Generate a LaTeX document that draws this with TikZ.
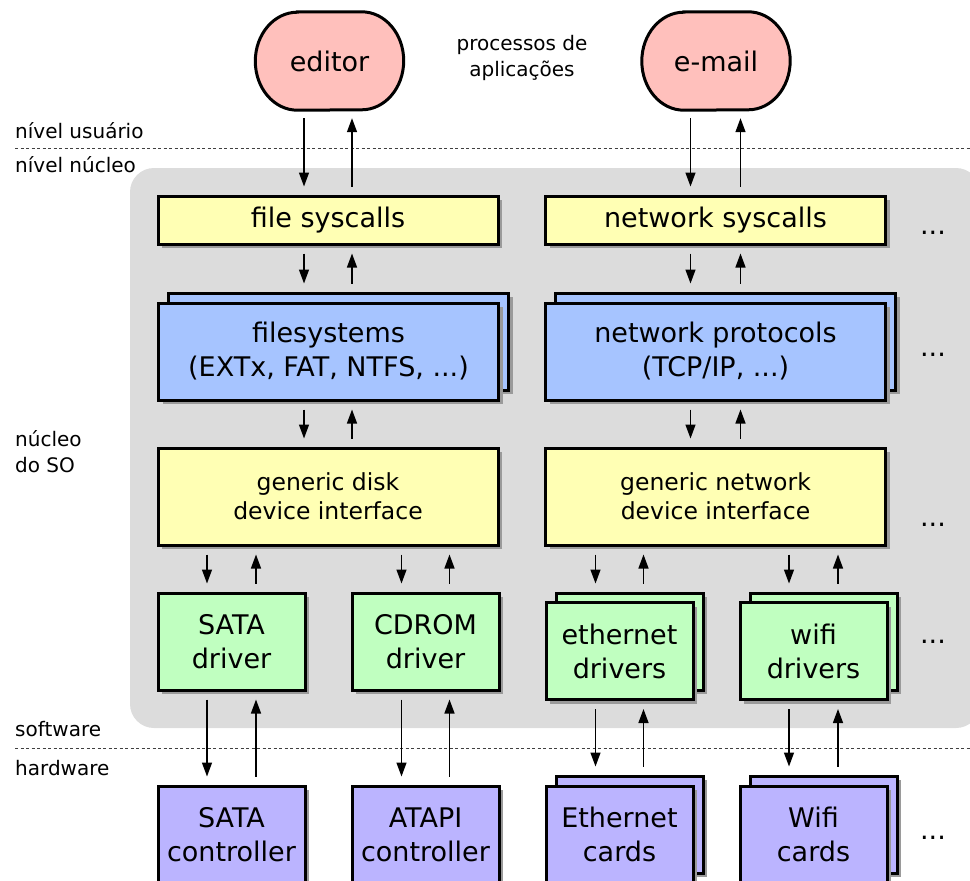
\documentclass[tikz,border=0pt]{standalone}
\usepackage{fontspec}
\setmainfont{DejaVu Sans}
\usetikzlibrary{shadows,arrows.meta,calc}
\definecolor{bggray}{HTML}{DCDCDC}
\definecolor{ylw}{HTML}{FFFFB4}
\definecolor{blu}{HTML}{A6C4FF}
\definecolor{grn}{HTML}{C0FFC0}
\definecolor{prp}{HTML}{BBB4FF}
\definecolor{pnk}{HTML}{FFC0BC}
\definecolor{shd}{HTML}{9A9A9A}
\tikzset{
  bigtxt/.style={font=\fontsize{27}{34}\selectfont},
  midtxt/.style={font=\fontsize{23.5}{29}\selectfont},
  lbl/.style={font=\fontsize{20}{26}\selectfont, inner sep=0pt},
  boxbase/.style={draw, line width=3pt, inner sep=0pt, align=center,
    drop shadow={shadow xshift=4pt, shadow yshift=-4pt, fill=shd, opacity=1}},
  wbox/.style={boxbase, minimum width=340pt, minimum height=#1},
  sbox/.style={boxbase, minimum width=147pt, minimum height=97pt},
  proc/.style={minimum width=148pt, minimum height=98pt, bigtxt, inner sep=0pt},
  procshape/.style={draw, line width=3pt, fill=pnk},
  arr/.style={line width=1.4pt, -{Triangle[length=14pt,width=10pt]}, shorten <=8pt, shorten >=8pt},
  sep/.style={line width=0.8pt, dash pattern=on 3pt off 2.5pt, black!75},
  dots/.style={bigtxt, anchor=base, inner sep=0pt}
}
\newcommand{\updown}[4]{%
  \draw[arr] ([xshift=-#4]#3.north |- #1.south) -- ([xshift=-#4]#3.north |- #2.north);
  \draw[arr] ([xshift=#4]#3.north |- #2.north) -- ([xshift=#4]#3.north |- #1.south);
}
\newcommand{\procbg}[1]{%
  \draw[procshape] ([xshift=42pt]#1.north west) -- ([xshift=-42pt]#1.north east)
    arc[start angle=-90, end angle=90, x radius=42, y radius=49]
    -- ([xshift=42pt]#1.south west)
    arc[start angle=90, end angle=270, x radius=42, y radius=49] -- cycle;
}
\begin{document}
\begin{tikzpicture}[x=1pt,y=-1pt]
\useasboundingbox (0,0) rectangle (970,881);
% kernel background
\fill[bggray, rounded corners=24pt] (130,168) rectangle (980,728);
% separators
\draw[sep] (15,148) -- (970,148);
\draw[sep] (15,748) -- (970,748);
% side labels
\node[lbl, anchor=west] (lu) at (15,131) {nível usuário};
\node[lbl, anchor=west] (ln) at (15,165) {nível núcleo};
\node[lbl, anchor=west, align=left] (lso) at (15,452) {núcleo\\do SO};
\node[lbl, anchor=west] (lsw) at (15,729) {software};
\node[lbl, anchor=west] (lhw) at (15,768) {hardware};
\node[lbl, align=center] (lproc) at (522,58) {processos de\\aplicações};
% processes
\path (329.5,61) coordinate (ec) (716,61) coordinate (mc);
\node[proc] (editor) at (ec) {\phantom{x}};
\node[proc] (email) at (mc) {\phantom{x}};
\procbg{editor}
\procbg{email}
\node[bigtxt, inner sep=0pt] (editortxt) at (ec) {editor};
\node[bigtxt, inner sep=0pt] (emailtxt) at (mc) {e-mail};
% syscalls
\node[wbox=48pt, fill=ylw, bigtxt] (fsys) at (328,220) {file syscalls};
\node[wbox=48pt, fill=ylw, bigtxt] (nsys) at (715.5,220) {network syscalls};
% protocols
\node[wbox=97pt, fill=blu] (fsback) at (338.5,341.5) {};
\node[wbox=97pt, fill=blu, bigtxt] (fs) at (328.5,351.5) {filesystems\\(EXTx, FAT, NTFS, ...)};
\node[wbox=97pt, fill=blu] (npback) at (725.5,341.5) {};
\node[wbox=97pt, fill=blu, bigtxt] (np) at (715.5,351.5) {network protocols\\(TCP/IP, ...)};
% generic interfaces
\node[wbox=97pt, fill=ylw, midtxt] (gdisk) at (328,496.5) {generic disk\\device interface};
\node[wbox=97pt, fill=ylw, midtxt] (gnet) at (715.5,496.5) {generic network\\device interface};
% drivers
\node[sbox, fill=grn, bigtxt] (sata) at (231.5,641.5) {SATA\\driver};
\node[sbox, fill=grn, bigtxt] (cdrom) at (425.5,641.5) {CDROM\\driver};
\node[sbox, fill=grn] (ethback) at (629.5,641.5) {};
\node[sbox, fill=grn, bigtxt] (eth) at (619.5,651) {ethernet\\drivers};
\node[sbox, fill=grn] (wifiback) at (823.5,641.5) {};
\node[sbox, fill=grn, bigtxt] (wifi) at (813.5,651) {wifi\\drivers};
% hardware
\node[sbox, fill=prp, bigtxt] (satac) at (231.5,834.5) {SATA\\controller};
\node[sbox, fill=prp, bigtxt] (atapi) at (425.5,834.5) {ATAPI\\controller};
\node[sbox, fill=prp] (ethcback) at (629.5,824.5) {};
\node[sbox, fill=prp, bigtxt] (ethc) at (619.5,834.5) {Ethernet\\cards};
\node[sbox, fill=prp] (wificback) at (823.5,824.5) {};
\node[sbox, fill=prp, bigtxt] (wific) at (813.5,834.5) {Wifi\\cards};
% dots
\node[dots] (d1) at (933,234) {...};
\node[dots] (d2) at (933,356) {...};
\node[dots] (d3) at (933,526) {...};
\node[dots] (d4) at (933,643) {...};
\node[dots] (d5) at (933,839) {...};
% arrows
\updown{editor}{fsys}{fsys}{24pt}
\updown{email}{nsys}{nsys}{25pt}
\updown{fsys}{fsback}{fsys}{24pt}
\updown{nsys}{npback}{nsys}{25pt}
\updown{fs}{gdisk}{fsys}{24pt}
\updown{np}{gnet}{nsys}{25pt}
\updown{gdisk}{sata}{sata}{24.5pt}
\updown{gdisk}{cdrom}{cdrom}{24pt}
\updown{gnet}{ethback}{eth}{24pt}
\updown{gnet}{wifiback}{wifi}{24.5pt}
\updown{sata}{satac}{sata}{24.5pt}
\updown{cdrom}{atapi}{cdrom}{24pt}
\updown{eth}{ethcback}{eth}{24pt}
\updown{wifi}{wificback}{wifi}{24.5pt}
\end{tikzpicture}
\end{document}
